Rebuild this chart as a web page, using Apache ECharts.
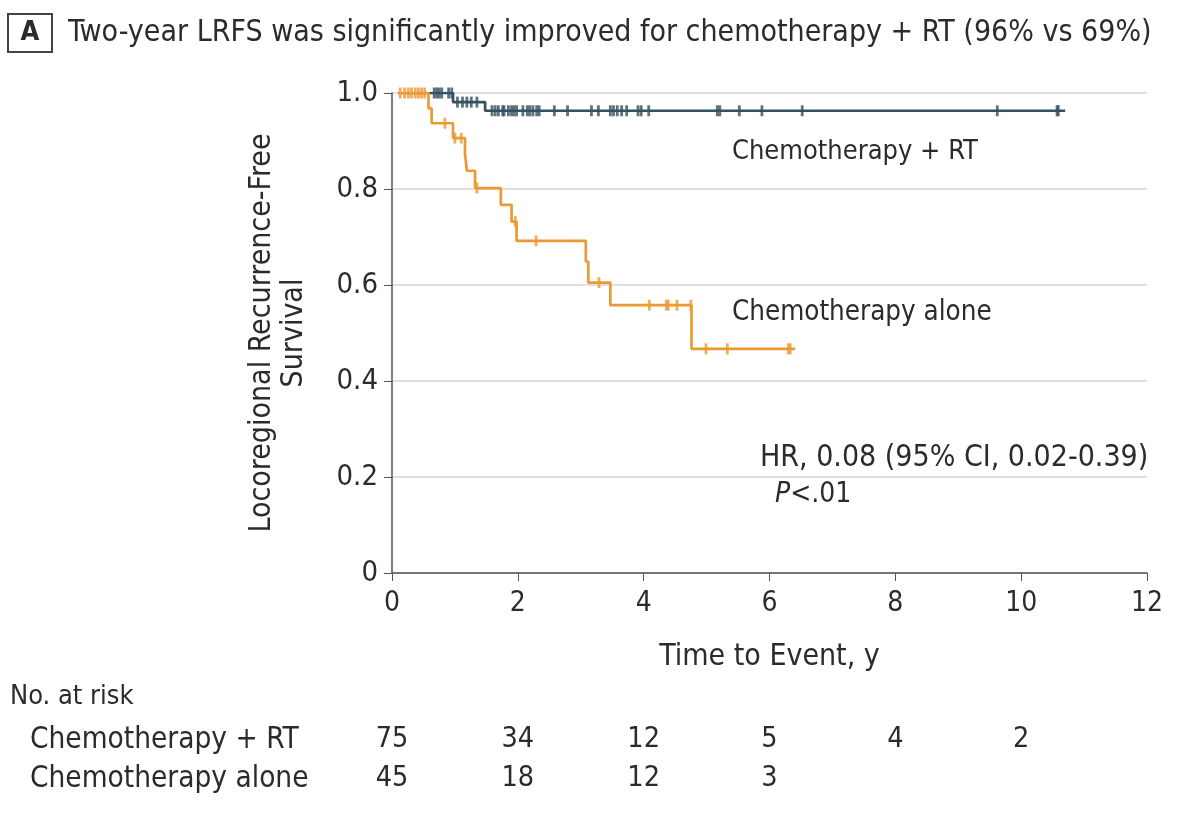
<!DOCTYPE html>
<html>
<head>
<meta charset="utf-8">
<script src="https://cdn.jsdelivr.net/npm/echarts@6/dist/echarts.min.js"></script>
<style>
  html, body { margin: 0; padding: 0; background: #fff; }
  #chart { width: 1200px; height: 823px; }
</style>
</head>
<body>
<div id="chart"></div>
<script>
  // Kaplan-Meier step points (time in years, survival after the step)
  const chemoRtTimes = [0.1, 0.97, 1.48, 10.70];
  const chemoRtSurv = [1.0, 0.981, 0.963, 0.963];
  const chemoRtCensored = [0.67, 0.71, 0.75, 0.79, 0.9, 0.95, 1.04, 1.12, 1.19, 1.26, 1.35,
    1.59, 1.64, 1.69, 1.76, 1.78, 1.85, 1.90, 1.94, 1.98, 2.08, 2.15, 2.19, 2.24, 2.30, 2.34,
    2.58, 2.79, 3.17, 3.28, 3.47, 3.52, 3.58, 3.65, 3.73, 3.91, 3.96, 4.08,
    5.17, 5.21, 5.52, 5.88, 6.52, 9.62, 10.57, 10.59];

  const chemoTimes = [0.1, 0.58, 0.63, 0.97, 1.16, 1.19, 1.32, 1.73, 1.90, 1.98, 3.08, 3.12, 3.47, 4.76, 6.41];
  const chemoSurv = [1.0, 0.968, 0.937, 0.906, 0.874, 0.838, 0.802, 0.767, 0.732, 0.692, 0.649, 0.605, 0.558, 0.467, 0.467];
  const chemoCensored = [0.13, 0.2, 0.26, 0.31, 0.37, 0.42, 0.47, 0.52, 0.84, 1.0, 1.1, 1.35,
    1.96, 2.29, 3.29, 4.09, 4.36, 4.39, 4.53, 4.75, 4.99, 5.33, 6.30, 6.33];

  // number at risk table
  const riskTimes = [0, 2, 4, 6, 8, 10];
  const riskChemoRt = ['75', '34', '12', '5', '4', '2'];
  const riskChemo = ['45', '18', '12', '3', '', ''];

  const FONT = '"DejaVu Sans Condensed", "Liberation Sans Narrow", sans-serif';
  const TXT = '#2b2b2b';
  const BLUE = '#34515f';
  const ORANGE = '#eb9a33';

  // value of the step curve at time t
  const survAt = (times, surv, t) => {
    let v = surv[0];
    times.forEach((tt, i) => {
      if (tt <= t) v = surv[i];
    });
    return v;
  };

  const stepData = (times, surv) => times.map((t, i) => [t, surv[i]]);
  const censorData = (times, surv, cens) => cens.map((t) => [t, survAt(times, surv, t)]);

  const chart = echarts.init(document.getElementById('chart'));

  const option = {
    animation: false,
    textStyle: { fontFamily: FONT },
    grid: { left: 392, right: 53, top: 93, bottom: 250, containLabel: false },
    xAxis: {
      type: 'value',
      min: 0,
      max: 12,
      interval: 2,
      name: 'Time to Event, y',
      nameLocation: 'middle',
      nameGap: 69,
      nameTextStyle: { fontSize: 30, color: TXT, fontFamily: FONT },
      axisLine: { lineStyle: { color: '#555', width: 1.5 } },
      axisTick: { show: true, length: 8, lineStyle: { color: '#555' } },
      axisLabel: { fontSize: 28, color: TXT, margin: 17, fontFamily: FONT },
      splitLine: { show: false },
    },
    yAxis: {
      type: 'value',
      min: 0,
      max: 1,
      interval: 0.2,
      name: 'Locoregional Recurrence-Free\nSurvival',
      nameLocation: 'middle',
      nameRotate: 90,
      nameGap: 82,
      nameTextStyle: { fontSize: 30, color: TXT, lineHeight: 32, fontFamily: FONT, align: 'center' },
      axisLine: { show: true, lineStyle: { color: '#555', width: 1.5 } },
      axisTick: { show: true, length: 8, lineStyle: { color: '#555' } },
      axisLabel: {
        fontSize: 29,
        color: TXT,
        margin: 14,
        fontFamily: FONT,
        formatter: (v) => (v === 0 ? '0' : v.toFixed(1)),
      },
      splitLine: { show: true, lineStyle: { color: '#d4d4d4', width: 1.5 } },
    },
    series: [
      {
        name: 'Chemotherapy + RT',
        type: 'line',
        step: 'end',
        data: stepData(chemoRtTimes, chemoRtSurv),
        showSymbol: false,
        lineStyle: { color: BLUE, width: 2.7 },
        z: 2,
      },
      {
        name: 'Chemotherapy + RT censored',
        type: 'scatter',
        data: censorData(chemoRtTimes, chemoRtSurv, chemoRtCensored),
        symbol: 'rect',
        symbolSize: [2.8, 11],
        itemStyle: { color: BLUE },
        z: 3,
      },
      {
        name: 'Chemotherapy alone',
        type: 'line',
        step: 'end',
        data: stepData(chemoTimes, chemoSurv),
        showSymbol: false,
        lineStyle: { color: ORANGE, width: 2.7 },
        z: 4,
      },
      {
        name: 'Chemotherapy alone censored',
        type: 'scatter',
        data: censorData(chemoTimes, chemoSurv, chemoCensored),
        symbol: 'rect',
        symbolSize: [2.8, 11],
        itemStyle: { color: ORANGE },
        z: 5,
      },
    ],
  };

  chart.setOption(option);

  // 标题、注释和风险表
  const text = (x, y, str, size, extra) => ({
    type: 'text',
    x,
    y,
    style: Object.assign({ text: str, fill: TXT, font: size + 'px ' + FONT, textVerticalAlign: 'middle' }, extra || {}),
  });

  const graphics = [
    { type: 'rect', shape: { x: 8, y: 14, width: 44, height: 38 }, style: { fill: '#fff', stroke: '#444', lineWidth: 2 } },
    text(30, 33, 'A', 27, { font: 'bold 27px ' + FONT, textAlign: 'center' }),
    text(68, 33, 'Two-year LRFS was significantly improved for chemotherapy + RT (96% vs 69%)', 30),
    text(732, 152, 'Chemotherapy + RT', 27),
    text(732, 313, 'Chemotherapy alone', 27.5),
    text(760, 458, 'HR, 0.08 (95% CI, 0.02-0.39)', 30),
    {
      type: 'text',
      x: 775,
      y: 495,
      style: {
        text: '{i|P}<.01',
        fill: TXT,
        font: '28px ' + FONT,
        textVerticalAlign: 'middle',
        rich: { i: { fontStyle: 'italic', fontSize: 28, fontFamily: FONT, fill: TXT } },
      },
    },
    text(10, 697, 'No. at risk', 27),
    text(30, 740, 'Chemotherapy + RT', 29.5),
    text(30, 779, 'Chemotherapy alone', 29.5),
  ];

  riskTimes.forEach((t, i) => {
    const px = chart.convertToPixel({ xAxisIndex: 0 }, t);
    graphics.push(text(px, 740, riskChemoRt[i], 28.5, { textAlign: 'center' }));
    graphics.push(text(px, 779, riskChemo[i], 28.5, { textAlign: 'center' }));
  });

  chart.setOption({ graphic: graphics });
</script>
</body>
</html>
